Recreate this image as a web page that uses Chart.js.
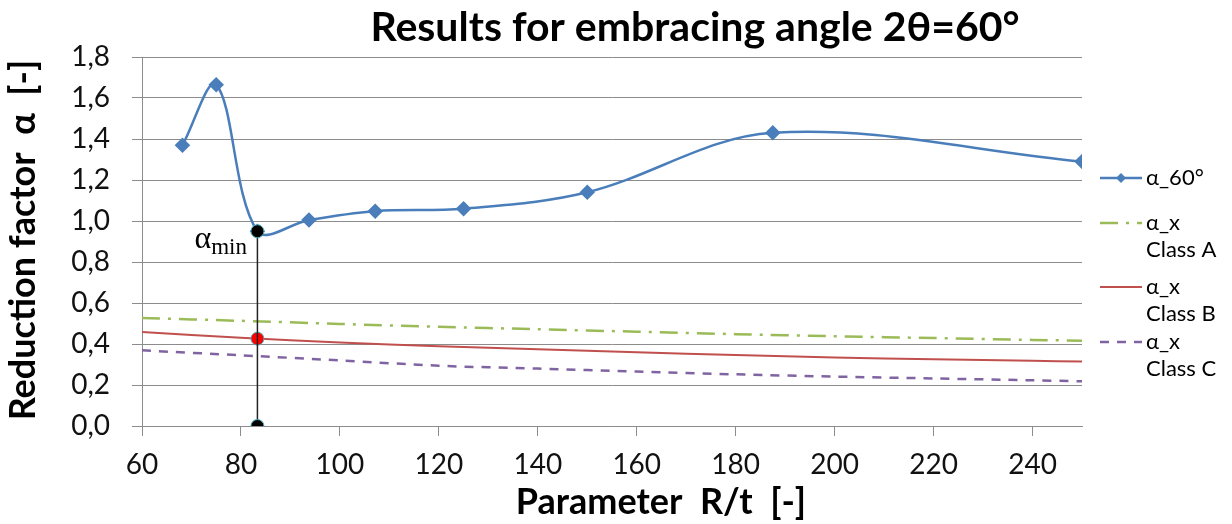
<!DOCTYPE html>
<html>
<head>
<meta charset="utf-8">
<script src="https://cdn.jsdelivr.net/npm/chart.js@4.4.1/dist/chart.umd.min.js"></script>
<style>
  html, body { margin: 0; padding: 0; background: #fff; }
  #wrap { width: 1232px; height: 524px; position: relative; }
</style>
</head>
<body>
<div id="wrap"><canvas id="alphaChart"></canvas></div>
<script>
// values
const chartTitle = 'Results for embracing angle 2θ=60°';
const xTitle = 'Parameter  R/t  [-]';
const yTitle = 'Reduction factor  α  [-]';

const xTicks = [60, 80, 100, 120, 140, 160, 180, 200, 220, 240];
const yTicks = [0, 0.2, 0.4, 0.6, 0.8, 1.0, 1.2, 1.4, 1.6, 1.8];

const rtValues = [68.18, 75, 83.33, 93.75, 107.14, 125, 150, 187.5, 250];
const alpha60 = [1.37, 1.665, 0.95, 1.005, 1.048, 1.06, 1.14, 1.43, 1.29];

const rtCurve = [60, 80, 100, 120, 140, 160, 180, 200, 220, 240, 250];
const alphaClassA = [0.527, 0.513, 0.498, 0.484, 0.472, 0.460, 0.448, 0.438, 0.429, 0.420, 0.416];
const alphaClassB = [0.459, 0.430, 0.407, 0.389, 0.374, 0.360, 0.346, 0.334, 0.326, 0.318, 0.315];
const alphaClassC = [0.369, 0.345, 0.320, 0.294, 0.280, 0.266, 0.252, 0.241, 0.232, 0.223, 0.218];

const seriesNames = ['α_60°', 'α_x\nClass A', 'α_x\nClass B', 'α_x\nClass C'];

const alphaMinRt = 83.33;
const alphaMin = 0.95;
const alphaMinClassB = 0.426;

function toPoints(xs, ys) {
  return xs.map((x, i) => ({ x: x, y: ys[i] }));
}

const FONT = 'Lato, "Open Sans", sans-serif';

// titles, legend and the alpha_min label
const overlay = {
  id: 'overlay',
  afterDatasetsDraw(chart) {
    const ctx = chart.ctx;
    const xs = chart.scales.x, ys = chart.scales.y;
    const px = xs.getPixelForValue(alphaMinRt);
    const py = ys.getPixelForValue(alphaMin);
    ctx.save();
    ctx.fillStyle = '#000';
    ctx.textBaseline = 'alphabetic';
    ctx.textAlign = 'left';
    ctx.font = '32px "Liberation Serif", serif';
    const ax = px - 63;
    ctx.fillText('α', ax, py + 17);
    const aw = ctx.measureText('α').width;
    ctx.font = '23px "Liberation Serif", serif';
    ctx.fillText('min', ax + aw, py + 23);
    ctx.restore();
  },
  afterDraw(chart) {
    const ctx = chart.ctx;
    ctx.save();
    ctx.fillStyle = '#000';
    ctx.textAlign = 'center';
    ctx.textBaseline = 'middle';
    ctx.font = 'bold 41px ' + FONT;
    ctx.fillText(chartTitle, 695, 28);
    ctx.font = 'bold 36px ' + FONT;
    ctx.fillText(xTitle, 661, 502);
    ctx.save();
    ctx.translate(23, 240);
    ctx.rotate(-Math.PI / 2);
    ctx.fillText(yTitle, 0, 0);
    ctx.restore();

    // legend
    const rows = [178, 223, 287, 342];
    ctx.font = '22px ' + FONT;
    ctx.textAlign = 'left';
    seriesNames.forEach((name, i) => {
      const ds = chart.data.datasets[i];
      const y = rows[i];
      ctx.save();
      ctx.strokeStyle = ds.borderColor;
      ctx.lineWidth = ds.borderWidth;
      ctx.setLineDash(ds.borderDash || []);
      ctx.beginPath();
      ctx.moveTo(1100, y);
      ctx.lineTo(1142, y);
      ctx.stroke();
      if (ds.pointRadius > 0) {
        const r = 5;
        ctx.fillStyle = ds.pointBackgroundColor;
        ctx.beginPath();
        ctx.moveTo(1121, y - r);
        ctx.lineTo(1121 + r, y);
        ctx.lineTo(1121, y + r);
        ctx.lineTo(1121 - r, y);
        ctx.closePath();
        ctx.fill();
      }
      ctx.restore();
      name.split('\n').forEach((line, j) => {
        ctx.fillText(line, 1146, y + j * 27);
      });
    });
    ctx.restore();
  }
};

new Chart(document.getElementById('alphaChart'), {
  type: 'scatter',
  data: {
    datasets: [
      {
        label: seriesNames[0],
        data: toPoints(rtValues, alpha60),
        showLine: true,
        borderColor: '#4a7ebb',
        backgroundColor: '#4a7ebb',
        pointBackgroundColor: '#4a7ebb',
        pointBorderColor: '#4a7ebb',
        borderWidth: 2.5,
        pointStyle: 'rectRot',
        pointRadius: 6,
        tension: 0.35,
        order: 1
      },
      {
        label: seriesNames[1],
        data: toPoints(rtCurve, alphaClassA),
        showLine: true,
        borderColor: '#9bbb59',
        borderWidth: 2.5,
        borderDash: [18, 8, 3, 8],
        pointRadius: 0,
        tension: 0.3,
        order: 2
      },
      {
        label: seriesNames[2],
        data: toPoints(rtCurve, alphaClassB),
        showLine: true,
        borderColor: '#c0504d',
        borderWidth: 2,
        pointRadius: 0,
        tension: 0.3,
        order: 2
      },
      {
        label: seriesNames[3],
        data: toPoints(rtCurve, alphaClassC),
        showLine: true,
        borderColor: '#8064a2',
        borderWidth: 2.5,
        borderDash: [9, 8],
        pointRadius: 0,
        tension: 0.3,
        order: 2
      },
      {
        label: 'alpha_min',
        data: [{ x: alphaMinRt, y: 0 }, { x: alphaMinRt, y: alphaMin }],
        showLine: true,
        borderColor: '#222',
        borderWidth: 1.5,
        pointRadius: 6.5,
        pointBackgroundColor: '#000',
        pointBorderColor: '#4bb3c4',
        pointBorderWidth: 1,
        order: 0
      },
      {
        label: 'alpha_x B at alpha_min',
        data: [{ x: alphaMinRt, y: alphaMinClassB }],
        pointRadius: 6.5,
        pointBackgroundColor: '#ff0000',
        pointBorderColor: '#4bb3c4',
        pointBorderWidth: 1,
        order: 0
      }
    ]
  },
  options: {
    responsive: true,
    maintainAspectRatio: false,
    animation: false,
    layout: { padding: { top: 57, right: 150, left: 0, bottom: 0 } },
    plugins: {
      legend: { display: false },
      tooltip: { enabled: false }
    },
    scales: {
      x: {
        type: 'linear',
        min: 60,
        max: 250,
        afterBuildTicks: scale => { scale.ticks = xTicks.map(v => ({ value: v })); },
        afterFit: scale => { scale.height = 98; },
        border: { color: '#8c8c8c', width: 1 },
        grid: { drawOnChartArea: false, drawTicks: true, tickLength: 10, color: '#8c8c8c' },
        ticks: {
          color: '#111',
          font: { family: FONT, size: 28 },
          padding: 12,
          maxRotation: 0
        }
      },
      y: {
        min: 0,
        max: 1.8,
        afterBuildTicks: scale => { scale.ticks = yTicks.map(v => ({ value: v })); },
        afterFit: scale => { scale.width = 142; },
        border: { color: '#8c8c8c', width: 1 },
        grid: { color: '#8c8c8c', tickLength: 10 },
        ticks: {
          color: '#111',
          font: { family: FONT, size: 28 },
          padding: 22,
          callback: v => v.toFixed(1).replace('.', ',')
        }
      }
    }
  },
  plugins: [overlay]
});
</script>
</body>
</html>
